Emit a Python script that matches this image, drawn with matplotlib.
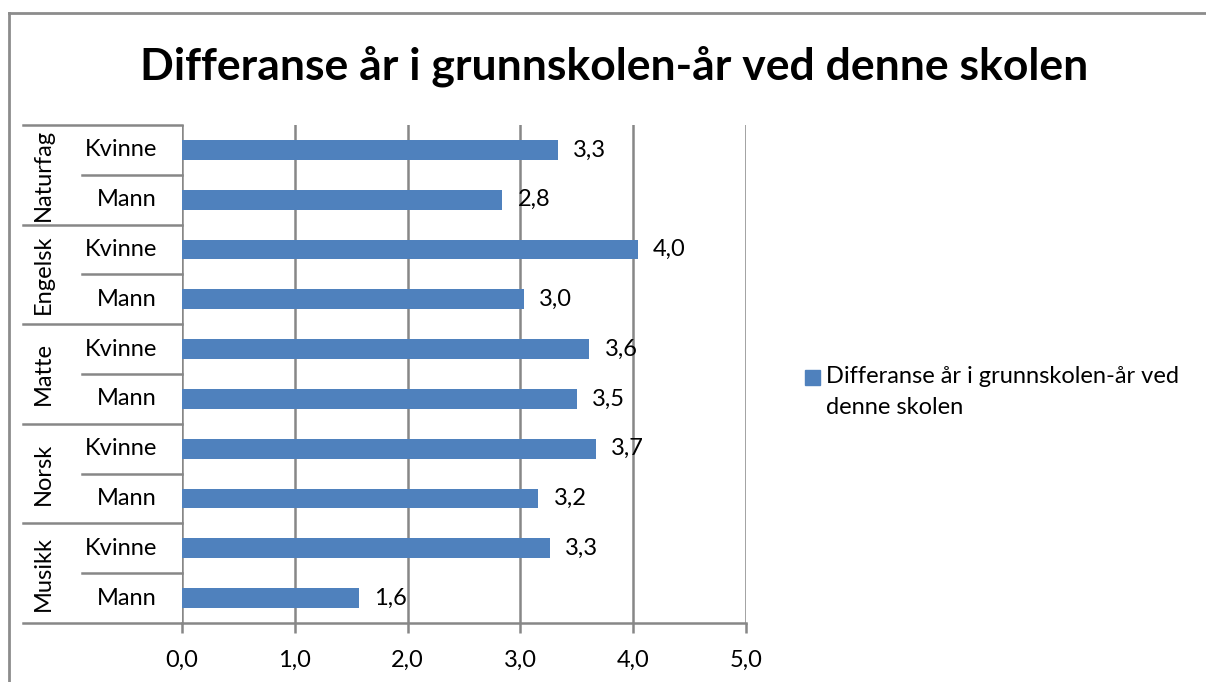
import numpy as np
import matplotlib.pyplot as plt
from matplotlib.lines import Line2D
from matplotlib.patches import Rectangle

# data (bottom to top, as drawn)
groups = ["Musikk", "Norsk", "Matte", "Engelsk", "Naturfag"]
subs = ["Mann", "Kvinne"]
values = [1.57, 3.26, 3.16, 3.67, 3.50, 3.61, 3.03, 4.04, 2.84, 3.33]
xticks = [0, 1, 2, 3, 4, 5]
title = "Differanse år i grunnskolen-år ved denne skolen"
series_name = "Differanse år i grunnskolen-år ved\ndenne skolen"

plt.rcParams['font.family'] = ['Lato', 'DejaVu Sans']
W, H = 1206, 682
bar_col = "#4F81BD"
grid_col = "#878787"
fs = 17

fig = plt.figure(figsize=(W/100, H/100), dpi=100)
fig.patch.set_facecolor("white")

def fx(px):
    return px / W

def fy(py):
    return 1 - py / H

left, right, top, bottom = 182, 746, 125, 623
ax = fig.add_axes([fx(left), fy(bottom), fx(right - left), fy(top) - fy(bottom)])

n = len(values)
y = np.arange(n)
ax.barh(y, values, height=0.4, color=bar_col, zorder=3)
ax.set_xlim(0, 5)
ax.set_ylim(-0.5, n - 0.5)

for i, v in enumerate(values):
    ax.annotate(("%.1f" % v).replace(".", ","), (v, i), xytext=(11, 0),
                textcoords="offset points", va="center", ha="left", fontsize=fs,
                color="black")

for s in ax.spines.values():
    s.set_visible(False)
ax.set_yticks([])
ax.set_xticks(xticks)
ax.set_xticklabels([("%.1f" % t).replace(".", ",") for t in xticks], fontsize=fs)
ax.tick_params(axis="x", length=7, width=1.8, color=grid_col, pad=12)
for t in xticks:
    ax.axvline(t, color=grid_col, lw=1.8, zorder=1)
ax.axhline(-0.5, color=grid_col, lw=1.8, zorder=1, clip_on=False)

# multi-level category axis
tr = ax.get_yaxis_transform()
x_outer = (23 - left) / (right - left)
x_inner = (82 - left) / (right - left)
x_grp = (43 - left) / (right - left)
x_sub = (157 - left) / (right - left)
for k in range(len(groups) + 1):
    yy = 2 * k - 0.5
    ax.add_line(Line2D([x_outer, 0], [yy, yy], transform=tr, color=grid_col,
                       lw=1.8, clip_on=False))
for k in range(len(groups)):
    yy = 2 * k + 0.5
    ax.add_line(Line2D([x_inner, 0], [yy, yy], transform=tr, color=grid_col,
                       lw=1.8, clip_on=False))
    ax.text(x_grp, 2 * k + 0.5, groups[k], transform=tr, rotation=90,
            ha="center", va="center", fontsize=fs)
    for j, s in enumerate(subs):
        ax.text(x_sub, 2 * k + j, s, transform=tr, ha="right", va="center",
                fontsize=fs)

# title
fig.text(fx(614), fy(66), title, ha="center", va="center", fontsize=32,
         fontweight="bold")

# legend
fig.add_artist(Rectangle((fx(805), fy(385)), fx(15), fy(370) - fy(385),
                         transform=fig.transFigure, color=bar_col))
fig.text(fx(826), fy(366), series_name, ha="left", va="top", fontsize=fs,
         linespacing=1.6)

# outer frame
fig.add_artist(Line2D([fx(9), 1], [fy(13), fy(13)], transform=fig.transFigure,
                      color="#8c8c8c", lw=2))
fig.add_artist(Line2D([fx(9), fx(9)], [fy(13), 0], transform=fig.transFigure,
                      color="#8c8c8c", lw=2))

fig.savefig("out.png", dpi=100)
